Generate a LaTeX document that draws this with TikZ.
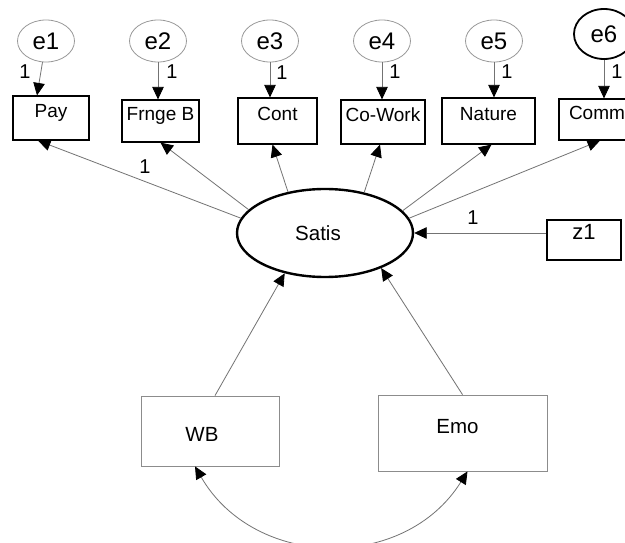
\documentclass[tikz,border=0pt]{standalone}
\usepackage{fontspec}
\setmainfont{Liberation Sans}
\usetikzlibrary{arrows.meta,shapes.geometric}
\tikzset{
  tipend/.tip={Triangle[length=12.5pt,width=11.5pt,color=black]},
  link/.style={draw=black!55, line width=0.8pt, -tipend},
  bilink/.style={draw=black!55, line width=0.8pt, tipend-tipend},
  errvar/.style={ellipse, draw=black!40, line width=0.8pt, minimum width=57pt,
    minimum height=42pt, inner sep=0pt, font=\fontsize{24}{28}\selectfont},
  obsbox/.style={rectangle, draw=black, line width=1.2pt, inner sep=0pt,
    text height=0.5em, text depth=0.5em, font=\fontsize{19}{22}\selectfont},
  exobox/.style={rectangle, draw=black!45, line width=0.8pt, inner sep=0pt},
  bigtext/.style={inner sep=0pt, font=\fontsize{20.5}{24}\selectfont},
  lbl/.style={inner sep=0pt, font=\fontsize{20}{24}\selectfont},
}
\begin{document}
\begin{tikzpicture}[x=1pt,y=1pt]
\fill[white] (0,0) rectangle (625,542);
\useasboundingbox (0,0) rectangle (625,542);

% error terms
\node[errvar] (e1) at (46,501) {e1};
\node[errvar] (e2) at (158,501) {e2};
\node[errvar] (e3) at (270,501) {e3};
\node[errvar] (e4) at (382,501) {e4};
\node[errvar] (e5) at (494,501) {e5};
\node[errvar, draw=black, line width=1.8pt, minimum width=60pt, minimum height=50pt] (e6) at (604,508) {e6};

% indicators
\node[obsbox, minimum width=76pt, minimum height=44pt] (pay) at (51,424) {Pay};
\node[obsbox, minimum width=77pt, minimum height=42pt] (frnge) at (160.5,421) {Frnge B};
\node[obsbox, minimum width=79pt, minimum height=46pt] (cont) at (277.5,421) {Cont};
\node[obsbox, minimum width=84pt, minimum height=44pt] (cowork) at (383,420) {Co-Work};
\node[obsbox, minimum width=93pt, minimum height=46pt] (nature) at (488.5,421) {Nature};
\node[obsbox, minimum width=76pt, minimum height=41pt] (comm) at (597,422.5) {Comm};

% latent factor and its disturbance
\node[ellipse, draw=black, line width=2.4pt, minimum width=176pt, minimum height=88pt,
  inner sep=0pt, label={[bigtext, xshift=-7pt]center:Satis}] (satis) at (325,309) {};
\node[obsbox, minimum width=74pt, minimum height=40pt, font=\fontsize{22}{26}\selectfont] (z1) at (584,302) {z1};

% predictors
\node[exobox, minimum width=138pt, minimum height=70pt,
  label={[bigtext, xshift=-8pt, yshift=-3.5pt]center:WB}] (wb) at (210,111) {};
\node[exobox, minimum width=169pt, minimum height=76pt,
  label={[bigtext, xshift=-5pt, text height=0.5em, text depth=0.5em]center:Emo}] (emo) at (462.5,109) {};

% error paths
\draw[link] (e1) -- ([xshift=-14pt]pay.north);
\draw[link] (e2) -- (e2 |- frnge.north);
\draw[link] (e3) -- (e3 |- cont.north);
\draw[link] (e4) -- (e4 |- cowork.north);
\draw[link] (e5) -- (e5 |- nature.north);
\draw[link] (e6) -- (e6 |- comm.north);

% loadings
\draw[link] (satis.170) -- ([xshift=-13pt]pay.south);
\draw[link] (satis.163) -- (frnge.south);
\draw[link] (satis.132) -- ([xshift=-5pt]cont.south);
\draw[link] (satis.46) -- ([xshift=-3pt]cowork.south);
\draw[link] (satis.16) -- ([xshift=3pt]nature.south);
\draw[link] (satis.10) -- ([xshift=3pt]comm.south);
\draw[link] (z1.west |- satis.east) -- (satis.east);

% structural paths and covariance
\draw[link] ([xshift=5pt]wb.north) -- (satis.225);
\draw[link] (emo.north) -- (satis.-32);
\draw[bilink] ([xshift=-15pt]wb.south) .. controls +(-60:119) and +(-122:119) .. ([xshift=5pt]emo.south);

% fixed path labels
\node[lbl] (l1) at (25,470) {1};
\node[lbl] (l2) at (172,470) {1};
\node[lbl] (l3) at (282,469) {1};
\node[lbl] (l4) at (395,470) {1};
\node[lbl] (l5) at (507,470) {1};
\node[lbl] (l6) at (617,470) {1};
\node[lbl] (lpay) at (145,375) {1};
\node[lbl] (lz) at (473,324) {1};
\end{tikzpicture}
\end{document}
